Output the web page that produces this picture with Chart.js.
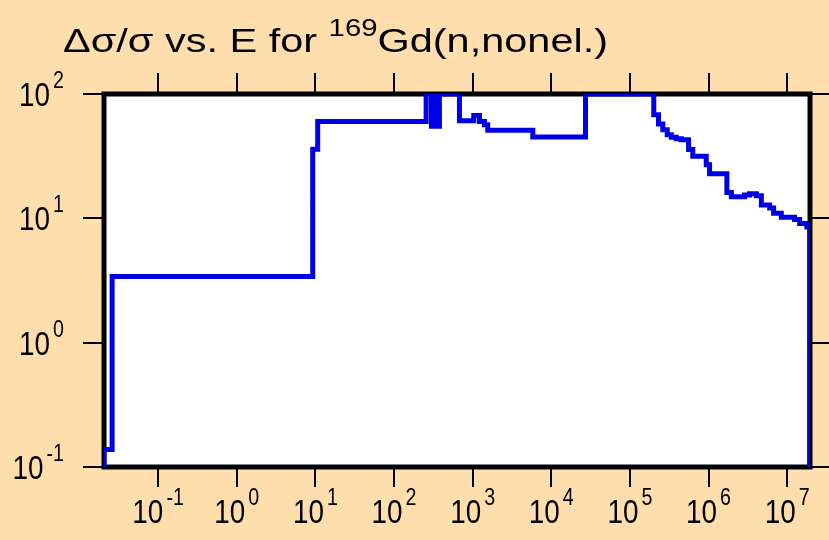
<!DOCTYPE html>
<html>
<head>
<meta charset="utf-8">
<title>Gd-169 nonel. uncertainty</title>
<script src="https://cdn.jsdelivr.net/npm/chart.js@4/dist/chart.umd.min.js"></script>
<style>
  html, body { margin: 0; padding: 0; background: #FFDEAD; }
  canvas { display: block; }
</style>
</head>
<body>
<canvas id="kurve" width="829" height="540"></canvas>
<script>
// Relative uncertainty (%) of the 169Gd non-elastic cross section per energy group.
// Each point is the lower edge of a group (eV) and the value that holds until the next edge.
const energy = [0.0205, 0.0205, 0.026, 9.25, 10.7, 256, 299, 317, 336, 378, 679, 1033, 1221,
  1413, 1556, 5821, 27240, 2.01e5, 2.31e5, 2.62e5, 2.98e5, 3.36e5, 3.88e5, 4.5e5, 5.57e5,
  6.3e5, 9.35e5, 1.03e6, 1.71e6, 1.95e6, 2.87e6, 3.32e6, 4.05e6, 4.69e6, 5.98e6, 6.72e6,
  8.41e6, 1.24e7, 1.44e7, 1.78e7, 1.93e7];
const uncertainty = [0.1, 0.138, 3.4, 36, 60, 100, 55, 100, 55, 100, 61, 67, 60,
  56.6, 51, 45, 100, 68, 57.4, 51.6, 47, 44.9, 43.7, 42.9, 35.7,
  31.6, 27, 22.8, 16.1, 14.9, 15.4, 15.8, 15.2, 12.8, 12.1, 11,
  10.2, 9.8, 9.1, 8.5, 0.1];

// decade exponents for tick marks and labels
const xExponents = [-1, 0, 1, 2, 3, 4, 5, 6, 7];
const yExponents = [-1, 0, 1, 2];

const FONT = '"Liberation Sans", Arial, sans-serif';
const LABEL_SQUEEZE = 0.82; // tick labels are set a bit narrow

function textWidth(ctx, txt, size, sx) {
  ctx.font = size + 'px ' + FONT;
  return ctx.measureText(txt).width * sx;
}

function drawText(ctx, txt, x, baseline, size, sx) {
  ctx.save();
  ctx.font = size + 'px ' + FONT;
  ctx.translate(x, baseline);
  ctx.scale(sx, 1);
  ctx.fillText(txt, 0, 0);
  ctx.restore();
}

// "10" with a raised exponent; align is 'center' or 'right'
function drawPower(ctx, exp, x, baseline, align) {
  const sx = LABEL_SQUEEZE;
  const w1 = textWidth(ctx, '10', 34, sx);
  const w2 = textWidth(ctx, String(exp), 24, sx);
  const gap = 3;
  const total = w1 + gap + w2;
  const left = align === 'center' ? x - total / 2 : x - total;
  drawText(ctx, '10', left, baseline, 34, sx);
  drawText(ctx, String(exp), left + w1 + gap, baseline - 18, 24, sx);
}

// title: plain text, a superscript mass number, more plain text, stretched to span 63..608
function drawTitle(ctx) {
  const a = 'Δσ/σ vs. E for ', b = '169', c = 'Gd(n,nonel.)';
  const natural = textWidth(ctx, a, 34, 1) + textWidth(ctx, b, 24, 1) + textWidth(ctx, c, 34, 1);
  const sx = (608 - 63) / natural;
  let x = 63;
  drawText(ctx, a, x, 52, 34, sx);
  x += textWidth(ctx, a, 34, sx);
  drawText(ctx, b, x, 36, 24, sx);
  x += textWidth(ctx, b, 24, sx);
  drawText(ctx, c, x, 52, 34, sx);
}

const frame = {
  id: 'frame',
  beforeDraw(chart) {
    const { ctx, chartArea: a } = chart;
    ctx.save();
    ctx.fillStyle = '#FFDEAD';
    ctx.fillRect(0, 0, chart.width, chart.height);
    ctx.fillStyle = '#ffffff';
    ctx.fillRect(a.left, a.top, a.right - a.left, a.bottom - a.top);
    ctx.restore();
  },
  beforeDatasetsDraw(chart) {
    const { ctx, chartArea: a, scales } = chart;
    ctx.save();
    ctx.strokeStyle = '#000';
    ctx.fillStyle = '#000';
    ctx.textBaseline = 'alphabetic';

    // tick marks, outside the box on all four sides
    ctx.lineWidth = 2;
    ctx.beginPath();
    xExponents.forEach(e => {
      const px = Math.round(scales.x.getPixelForValue(Math.pow(10, e)));
      ctx.moveTo(px, a.bottom); ctx.lineTo(px, a.bottom + 20);
      ctx.moveTo(px, a.top); ctx.lineTo(px, a.top - 21);
    });
    yExponents.forEach(e => {
      const py = Math.round(scales.y.getPixelForValue(Math.pow(10, e)));
      ctx.moveTo(a.left - 21, py); ctx.lineTo(a.left, py);
      ctx.moveTo(a.right, py); ctx.lineTo(a.right + 20, py);
    });
    ctx.stroke();

    // heavy box round the plot
    ctx.lineWidth = 5;
    ctx.strokeRect(a.left, a.top, a.right - a.left, a.bottom - a.top);

    // axis labels
    xExponents.forEach(e => {
      drawPower(ctx, e, scales.x.getPixelForValue(Math.pow(10, e)), 523, 'center');
    });
    yExponents.forEach(e => {
      drawPower(ctx, e, 64, scales.y.getPixelForValue(Math.pow(10, e)) + 12, 'right');
    });

    drawTitle(ctx);
    ctx.restore();
  }
};

const points = energy.map((e, i) => ({ x: e, y: uncertainty[i] }));

new Chart(document.getElementById('kurve'), {
  type: 'line',
  data: {
    datasets: [{
      data: points,
      stepped: 'before',
      borderColor: '#0000e6',
      borderWidth: 5,
      pointRadius: 0,
      fill: false,
      clip: 0
    }]
  },
  options: {
    responsive: false,
    animation: false,
    layout: { padding: { left: 104, right: 19, top: 94, bottom: 73 } },
    plugins: { legend: { display: false }, tooltip: { enabled: false } },
    scales: {
      x: { type: 'logarithmic', min: 0.0205, max: 1.95e7, display: false },
      y: { type: 'logarithmic', min: 0.1, max: 100, display: false }
    }
  },
  plugins: [frame]
});
</script>
</body>
</html>
